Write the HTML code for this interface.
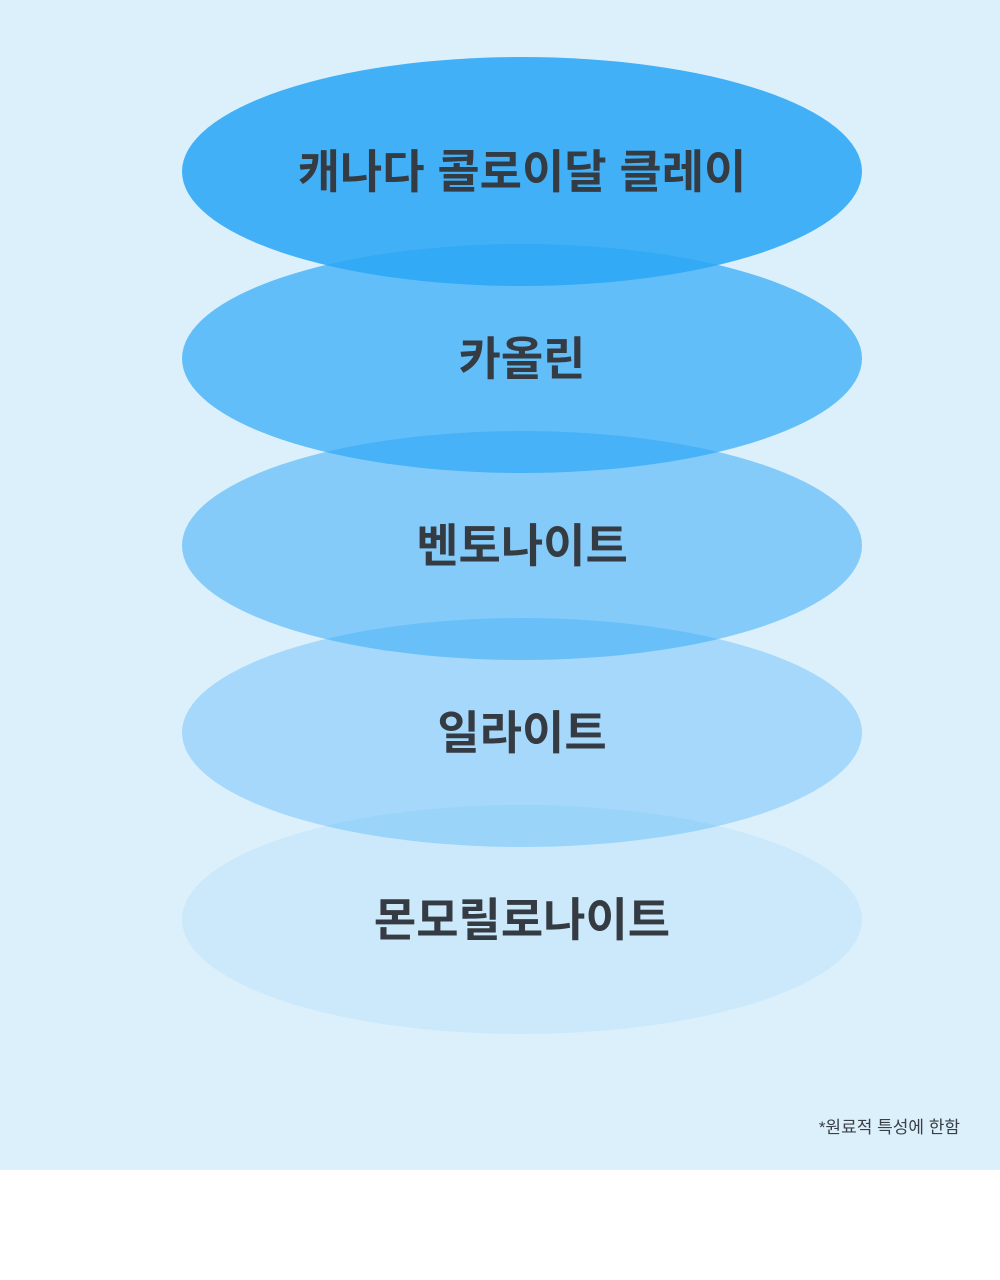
<!DOCTYPE html>
<html><head><meta charset="utf-8"><style>
html,body{margin:0;padding:0;width:1000px;height:1280px;background:#fff;overflow:hidden}
svg{display:block}
text{font-family:"Liberation Sans","Noto Sans CJK KR",sans-serif}
</style></head><body>
<svg width="1000" height="1280" viewBox="0 0 1000 1280">
<rect x="0" y="0" width="1000" height="1170" fill="#dcf0fc"/>
<g fill="#2ba6f6">
<ellipse cx="522" cy="919.5" rx="340" ry="114.5" fill-opacity="0.09"/>
<ellipse cx="522" cy="732.5" rx="340" ry="114.5" fill-opacity="0.31"/>
<ellipse cx="522" cy="545.5" rx="340" ry="114.5" fill-opacity="0.49"/>
<ellipse cx="522" cy="358.5" rx="340" ry="114.5" fill-opacity="0.69"/>
<ellipse cx="522" cy="171.5" rx="340" ry="114.5" fill-opacity="0.87"/>
</g>
<g fill="#353b42" font-size="46" font-weight="bold" text-anchor="middle">
<text x="522" y="188">캐나다 콜로이달 클레이</text>
<text x="522" y="375">카올린</text>
<text x="522" y="562">벤토나이트</text>
<text x="522" y="749">일라이트</text>
<text x="522" y="936">몬모릴로나이트</text>
</g>
<text x="960" y="1133" font-size="17" fill="#3a3f45" text-anchor="end">*원료적 특성에 한함</text>
</svg>
</body></html>
